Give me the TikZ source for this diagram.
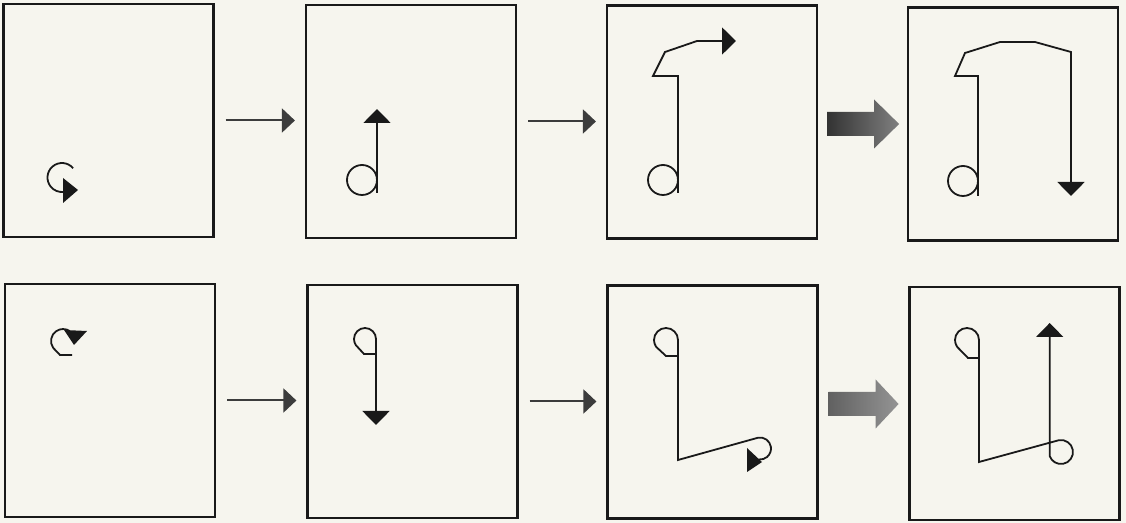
\documentclass[tikz,border=0pt]{standalone}
\usetikzlibrary{arrows.meta,calc}
\definecolor{paper}{RGB}{246,245,238}
\definecolor{ink}{RGB}{25,25,25}
\tikzset{
  panel/.style={draw=ink, line width=1.1pt, minimum width=105pt, minimum height=116.5pt, inner sep=0pt},
  glyph/.style={draw=ink, line width=0.9pt, line join=miter},
  glyphtip/.style={-{Triangle[length=7pt,width=13.5pt]}},
  flowarrow/.style={draw=ink!85, line width=1pt, -{Triangle[length=6.5pt,width=12pt]}, shorten <=5.5pt, shorten >=5pt},
  bigtop/.style={left color=black!80, right color=black!50},
  bigbot/.style={left color=black!62, right color=black!42}
}
\begin{document}
\begin{tikzpicture}[x=0.5pt,y=0.5pt]
\fill[paper] (0,0) rectangle (1126,-523);
\useasboundingbox (0,0) rectangle (1126,-523);

% panels
\node[panel] (p1) at (108.5,-120.5) {};
\node[panel] (p2) at (411,-121.5) {};
\node[panel] (p3) at (712,-122) {};
\node[panel] (p4) at (1013,-124) {};
\node[panel] (p5) at (110,-400.5) {};
\node[panel] (p6) at (412.5,-401.5) {};
\node[panel] (p7) at (712.5,-402) {};
\node[panel] (p8) at (1014.5,-403.5) {};

% thin flow arrows
\draw[flowarrow] (p1.east) -- (p1.east -| p2.west);
\draw[flowarrow] (p2.east) -- (p2.east -| p3.west);
\draw[flowarrow] (p5.east) -- (p5.east -| p6.west);
\draw[flowarrow] (p6.east) -- (p6.east -| p7.west);

% thick shaded arrows
\shade[bigtop] ($(p3.east)+(9,-2)$) ++(0,12) -- ++(47,0) -- ++(0,12.5) -- ++(25,-24.5) -- ++(-25,-24.5) -- ++(0,12.5) -- ++(-47,0) -- cycle;
\shade[bigbot] ($(p7.east)+(10,-2)$) ++(0,12) -- ++(47,0) -- ++(0,12.5) -- ++(23,-24.5) -- ++(-23,-24.5) -- ++(0,12.5) -- ++(-47,0) -- cycle;

% panel 1
\draw[glyph] (73.1,-168.2) arc[start angle=40,end angle=275,radius=14.5];
\fill[ink] (63,-178) -- (78,-190) -- (63,-203) -- cycle;

% panel 2
\draw[glyph] (362,-180) circle[radius=15];
\draw[glyph,glyphtip] (377,-193) -- (377,-109);

% panel 3
\draw[glyph] (663,-180) circle[radius=15];
\draw[glyph,glyphtip] (678,-193) -- (678,-76) -- (653,-76) -- (665,-52) -- (697,-41) -- (736,-41);

% panel 4
\draw[glyph] (963,-181) circle[radius=15];
\draw[glyph,glyphtip] (978,-196) -- (978,-76) -- (955,-76) -- (965,-53) -- (1000,-42) -- (1035,-42) -- (1071,-52) -- (1071,-196);

% panel 5
\draw[glyph] (72,-355) -- (60,-355) -- (53.2,-347.9) arc[start angle=215,end angle=55,radius=12];
\fill[ink] (64,-330) -- (87,-331) -- (74,-345) -- cycle;

% panel 6
\draw[glyph] (376,-339) arc[start angle=0,end angle=215,radius=11] -- (364,-354) -- (376,-354);
\draw[glyph,glyphtip] (376,-339) -- (376,-425);

% panel 7
\draw[glyph] (678,-340) arc[start angle=0,end angle=215,radius=12] -- (666,-356) -- (678,-356);
\draw[glyph] (678,-340) -- (678,-460) -- (758.1,-437.7) arc[start angle=100,end angle=-95,radius=11];
\fill[ink] (747,-448) -- (747,-472) -- (762,-462) -- cycle;

% panel 8
\draw[glyph] (979,-340) arc[start angle=0,end angle=215,radius=12] -- (968,-358) -- (979,-358);
\draw[glyph,glyphtip] (979,-340) -- (979,-462) -- (1058.9,-440.2) arc[start angle=100,end angle=-160,radius=12] -- (1049.7,-323);
\end{tikzpicture}
\end{document}
